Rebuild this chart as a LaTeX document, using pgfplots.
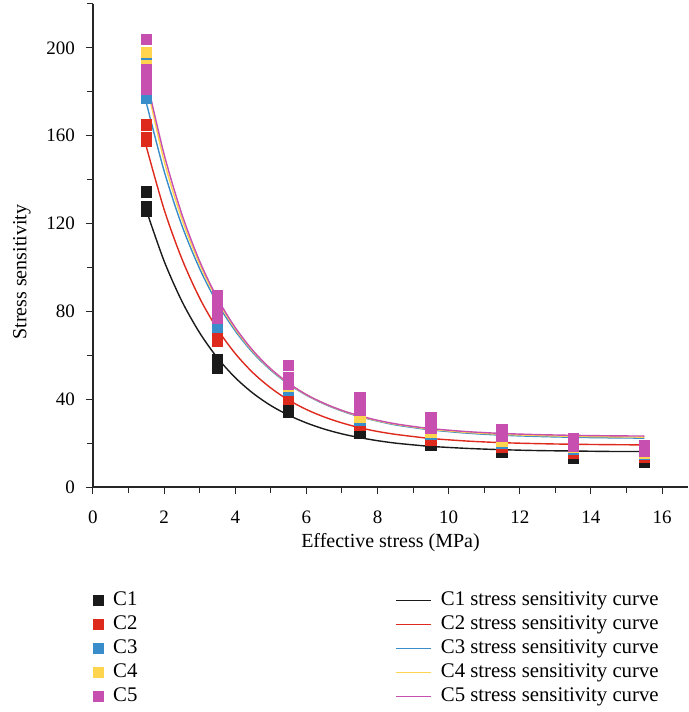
\documentclass[border=0pt]{standalone}
\usepackage{fontspec}
\setmainfont{Liberation Serif}
\usepackage{pgfplots}
\pgfplotsset{compat=1.18}
\definecolor{c1}{HTML}{1A1A1A}
\definecolor{c2}{HTML}{DE2A1C}
\definecolor{c3}{HTML}{3A8DCB}
\definecolor{c4}{HTML}{FFD54F}
\definecolor{c5}{HTML}{C64FB0}
\pgfplotsset{
  sq legend/.style={legend image code/.code={\fill[##1] (0pt,-2.5pt) rectangle (5pt,2.5pt);}},
  ln legend/.style={legend image code/.code={\draw[##1] (0pt,0pt) -- (17.5pt,0pt);}},
  pts/.style={only marks, mark=square*, mark size=2.6pt, mark options={draw=#1, fill=#1}, color=#1, forget plot},
  crv/.style={color=#1, line width=0.7pt, smooth, no marks, forget plot},
}
\begin{document}
\begin{tikzpicture}
\begin{axis}[
  scale only axis, width=297.5pt, height=241.5pt,
  xmin=0, xmax=16.73, ymin=0, ymax=220,
  axis lines=left, axis line style={-, line width=0.6pt, color=black!85},
  tick align=outside,
  xtick={0,2,...,16}, minor xtick={1,3,...,15},
  ytick={0,40,...,200}, minor ytick={20,60,...,220},
  major tick length=3.5pt, minor tick length=3pt,
  every tick/.style={line width=0.5pt, black!85},
  /pgf/number format/assume math mode=true,
  tick label style={font=\fontsize{9.5}{11}\selectfont},
  xticklabel style={yshift=-5pt},
  yticklabel style={xshift=-2pt},
  xlabel={Effective stress (MPa)},
  ylabel={Stress sensitivity},
  label style={font=\fontsize{10}{12}\selectfont},
  xlabel style={at={(axis description cs:0.5,-0.116)}, anchor=center},
  ylabel style={at={(axis description cs:-0.1193,0.445)}, anchor=center},
  clip=false,
  legend columns=2,
  legend style={draw=none, fill=none, at={(axis description cs:0,-0.211)}, anchor=north west,
    inner sep=0pt, font=\fontsize{10.4}{12}\selectfont, row sep=1pt,
    nodes={inner sep=1pt, text height=7pt, text depth=2pt},
    /tikz/every even column/.append style={column sep=128pt},
    /tikz/every odd column/.append style={column sep=3.5pt}},
]
\addplot[pts=c1] coordinates {(1.5,134.5)(1.5,127.5)(1.5,125.5)(3.5,58)(3.5,55.5)(3.5,54)(5.5,37)(5.5,35)(5.5,34)(7.5,26.5)(7.5,25)(7.5,24.5)(9.5,20)(9.5,19.5)(9.5,19)(11.5,17)(11.5,16.5)(11.5,16)(13.5,14)(13.5,13.5)(13.5,13)(15.5,12.5)(15.5,12)(15.5,11.5)};
\addplot[pts=c2] coordinates {(1.5,165)(1.5,159)(1.5,157.5)(3.5,70)(3.5,68)(3.5,66.5)(5.5,43)(5.5,41.5)(5.5,40)(7.5,30)(7.5,29)(7.5,28)(9.5,23.5)(9.5,22.5)(9.5,21.5)(11.5,19.5)(11.5,18.5)(11.5,18)(13.5,16.5)(13.5,16)(13.5,15.5)(15.5,14.5)(15.5,14)(15.5,13.5)};
\addplot[pts=c3] coordinates {(1.5,193)(1.5,180)(1.5,177)(3.5,76)(3.5,74.5)(3.5,73)(5.5,46)(5.5,45)(5.5,44)(7.5,32)(7.5,31)(7.5,30.5)(9.5,25)(9.5,24.5)(9.5,24)(11.5,21)(11.5,20.5)(11.5,20)(13.5,18)(13.5,17.5)(13.5,17)(15.5,16)(15.5,15.5)(15.5,15)};
\addplot[pts=c4] coordinates {(1.5,198)(1.5,192)(1.5,184)(3.5,84)(3.5,80)(3.5,78)(5.5,50)(5.5,47)(5.5,46)(7.5,34)(7.5,33)(7.5,32)(9.5,26.5)(9.5,25.5)(9.5,25)(11.5,22)(11.5,21.5)(11.5,21)(13.5,19)(13.5,18.5)(13.5,18)(15.5,16.5)(15.5,16)(15.5,15.5)};
\addplot[pts=c5] coordinates {(1.5,204)(1.5,190)(1.5,185)(1.5,181)(3.5,87)(3.5,82)(3.5,77)(5.5,55.5)(5.5,50)(5.5,47)(7.5,40.5)(7.5,37)(7.5,35)(9.5,31.5)(9.5,28.5)(9.5,27)(11.5,26)(11.5,24)(11.5,23)(13.5,22)(13.5,20)(13.5,18.5)(15.5,19)(15.5,17.5)(15.5,16.5)};
\addplot[crv=c1] coordinates {(1.5,126.0)(2.0,102.9)(2.5,84.6)(3.0,70.2)(3.5,58.8)(4.0,49.8)(4.5,42.7)(5.0,37.1)(5.5,32.7)(6.0,29.2)(6.5,26.4)(7.0,24.2)(7.5,22.5)(8.0,21.1)(8.5,20.0)(9.0,19.2)(9.5,18.5)(10.5,17.6)(11.5,17.0)(12.5,16.6)(13.5,16.4)(14.5,16.2)(15.5,16.15)};
\addplot[crv=c2] coordinates {(1.5,155.0)(2.0,126.4)(2.5,103.9)(3.0,86.0)(3.5,71.9)(4.0,60.8)(4.5,52.0)(5.0,45.1)(5.5,39.6)(6.0,35.3)(6.5,31.9)(7.0,29.2)(7.5,27.0)(8.0,25.3)(8.5,24.0)(9.0,23.0)(9.5,22.1)(10.5,20.95)(11.5,20.2)(12.5,19.76)(13.5,19.47)(14.5,19.30)(15.5,19.18)};
\addplot[crv=c3] coordinates {(1.5,175.0)(2.0,143.9)(2.5,119.1)(3.0,99.4)(3.5,83.6)(4.0,71.1)(4.5,61.1)(5.0,53.2)(5.5,46.8)(6.0,41.8)(6.5,37.8)(7.0,34.6)(7.5,32.0)(8.0,30.0)(8.5,28.3)(9.0,27.1)(9.5,26.0)(10.5,24.55)(11.5,23.6)(12.5,23.03)(13.5,22.65)(14.5,22.41)(15.5,22.26)};
\addplot[crv=c4] coordinates {(1.5,184.0)(2.0,148.5)(2.5,122.0)(3.0,101.4)(3.5,85.0)(4.0,72.0)(4.5,61.7)(5.0,53.6)(5.5,47.1)(6.0,42.0)(6.5,38.0)(7.0,34.8)(7.5,32.2)(8.0,30.2)(8.5,28.6)(9.0,27.4)(9.5,26.3)(10.5,24.9)(11.5,24.0)(12.5,23.45)(13.5,23.1)(14.5,22.87)(15.5,22.73)};
\addplot[crv=c5] coordinates {(1.5,186.0)(2.0,151.5)(2.5,124.2)(3.0,102.8)(3.5,85.9)(4.0,72.6)(4.5,62.1)(5.0,53.8)(5.5,47.3)(6.0,42.1)(6.5,38.1)(7.0,34.9)(7.5,32.4)(8.0,30.4)(8.5,28.8)(9.0,27.6)(9.5,26.6)(10.5,25.25)(11.5,24.4)(12.5,23.87)(13.5,23.54)(14.5,23.33)(15.5,23.21)};
\addlegendimage{color=c1, sq legend}\addlegendentry{C1}
\addlegendimage{color=c1, line width=0.7pt, ln legend}\addlegendentry{C1 stress sensitivity curve}
\addlegendimage{color=c2, sq legend}\addlegendentry{C2}
\addlegendimage{color=c2, line width=0.7pt, ln legend}\addlegendentry{C2 stress sensitivity curve}
\addlegendimage{color=c3, sq legend}\addlegendentry{C3}
\addlegendimage{color=c3, line width=0.7pt, ln legend}\addlegendentry{C3 stress sensitivity curve}
\addlegendimage{color=c4, sq legend}\addlegendentry{C4}
\addlegendimage{color=c4, line width=0.7pt, ln legend}\addlegendentry{C4 stress sensitivity curve}
\addlegendimage{color=c5, sq legend}\addlegendentry{C5}
\addlegendimage{color=c5, line width=0.7pt, ln legend}\addlegendentry{C5 stress sensitivity curve}
\path (axis description cs:-0.1563,1.0083) rectangle (axis description cs:1.0,-0.4658);
\end{axis}
\end{tikzpicture}
\end{document}
